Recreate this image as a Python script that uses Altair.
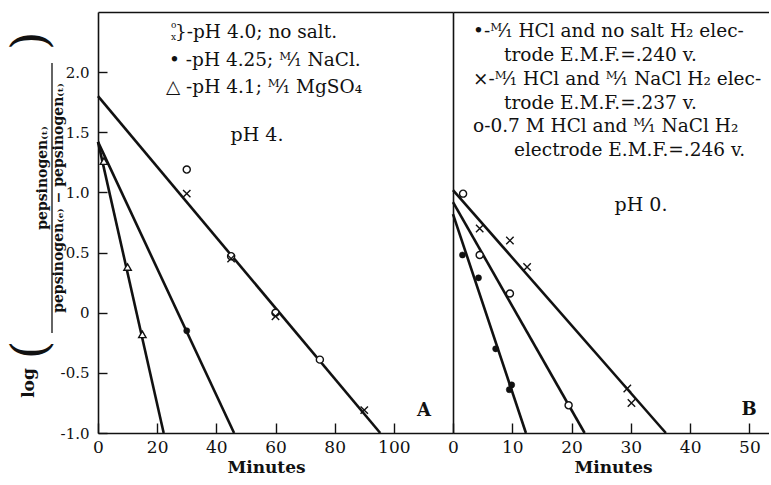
import altair as alt
import pandas as pd

FONT = "DejaVu Serif"
INK = "#111111"

# ---------------- panel A (pH 4) ----------------
a_x = [30, 30, 45, 45, 60, 60, 75, 90, 30, 2, 10, 15]
a_y = [1.19, 0.99, 0.47, 0.45, 0.00, -0.03, -0.39, -0.81, -0.15, 1.26, 0.38, -0.18]
a_sym = ["o", "x", "o", "x", "o", "x", "o", "x", "dot", "tri", "tri", "tri"]

a_fit_x0 = [0, 0, 0]
a_fit_y0 = [1.80, 1.42, 1.42]
a_fit_x1 = [95.4, 46.0, 22.2]
a_fit_y1 = [-1.0, -1.0, -1.0]

# ---------------- panel B (pH 0) ----------------
b_x = [1.6, 4.3, 7.2, 9.9, 9.5, 1.7, 4.5, 9.6, 19.5, 4.5, 9.6, 12.5, 29.4, 30.1]
b_y = [0.48, 0.29, -0.30, -0.60, -0.64, 0.99, 0.48, 0.16, -0.77, 0.70, 0.60, 0.38, -0.63, -0.75]
b_sym = ["dot"] * 5 + ["o"] * 4 + ["x"] * 5

b_fit_x0 = [0, 0, 0]
b_fit_y0 = [0.82, 0.92, 1.02]
b_fit_x1 = [12.3, 22.2, 35.9]
b_fit_y1 = [-1.0, -1.0, -1.0]

a_xticks = [0, 20, 40, 60, 80, 100]
b_xticks = [0, 10, 20, 30, 40, 50]
y_ticks = [-1.0, -0.5, 0, 0.5, 1.0, 1.5, 2.0]

# ---------------- texts ----------------
FR = "\u1d39\u2044\u2081"  # M/1
a_legend_o = "o"
a_legend_x = "x"
a_legend_1 = "}-pH 4.0; no salt."
a_legend_2 = "\u2022 -pH 4.25; " + FR + " NaCl."
a_legend_3 = "\u25b3 -pH 4.1; " + FR + " MgSO\u2084"
a_label = "pH 4."
b_legend = [
    "\u2022-" + FR + " HCl and no salt H\u2082 elec-",
    "trode E.M.F.=.240 v.",
    "\u00d7-" + FR + " HCl and " + FR + " NaCl H\u2082 elec-",
    "trode E.M.F.=.237 v.",
    "o-0.7 M HCl and " + FR + " NaCl H\u2082",
    "electrode E.M.F.=.246 v.",
]
b_label = "pH 0."
y_num = "pepsinogen\u208d\u209c\u208e"
y_den = "pepsinogen\u208d\u2091\u208e \u2212 pepsinogen\u208d\u209c\u208e"

SYM = {
    "o": dict(shape="circle", size=50, filled=True, fill="white", stroke=INK, strokeWidth=1.4),
    "x": dict(shape="M-1,-1L1,1M-1,1L1,-1", size=55, filled=False, stroke=INK, strokeWidth=1.4),
    "dot": dict(shape="circle", size=38, filled=True, fill=INK, stroke=INK, strokeWidth=0.5),
    "tri": dict(shape="triangle-up", size=55, filled=True, fill="white", stroke=INK, strokeWidth=1.4),
}

H = 421


def note(text, x, y, size=17, align="left", baseline="middle", angle=0, weight="normal"):
    kw = dict(align=align, baseline=baseline, fontSize=size, font=FONT, fontWeight=weight, color=INK)
    if angle:
        kw["angle"] = angle
    return alt.Chart(pd.DataFrame({"t": [text]})).mark_text(**kw).encode(
        x=alt.value(x), y=alt.value(y), text="t:N")


def panel(px, py, psym, fx0, fy0, fx1, fy1, xmax, width, xticks, ylabels, title_x, extra):
    pts = pd.DataFrame({"x": px, "y": py, "sym": psym})
    fits = pd.DataFrame({"x0": fx0, "y0": fy0, "x1": fx1, "y1": fy1})
    xscale = alt.Scale(domain=[0, xmax], nice=False, zero=False)
    yscale = alt.Scale(domain=[-1, 2.5], nice=False, zero=False)
    xaxis = alt.Axis(values=xticks, title="Minutes", tickSize={"expr": "-10"}, labelPadding=16,
                     labelFlush=False, labelFontSize=17, titleFontSize=17, titleFontWeight="bold",
                     titlePadding=4, tickWidth=1.4, domainWidth=1.6, format="d", titleX=title_x)
    if ylabels:
        yaxis = alt.Axis(values=y_ticks, title=None, tickSize={"expr": "-9"}, labelPadding=18,
                         labelFontSize=15, tickWidth=1.4, domainWidth=1.6,
                         labelExpr="datum.value == 0 ? '0' : (datum.value < 0 ? '-' + format(-datum.value, '.1f') : format(datum.value, '.1f'))")
    else:
        yaxis = alt.Axis(title=None, labels=False, ticks=False, domainWidth=1.6, minExtent=0, maxExtent=0)
    topaxis = alt.Axis(orient="top", labels=False, ticks=False, title=None, domainWidth=1.6,
                       minExtent=0, maxExtent=0)
    lines = alt.Chart(fits).mark_rule(color=INK, strokeWidth=2.6).encode(
        x=alt.X("x0:Q", scale=xscale, axis=xaxis),
        y=alt.Y("y0:Q", scale=yscale, axis=yaxis),
        x2="x1:Q", y2="y1:Q")
    layers = [lines]
    first = True
    for key, style in SYM.items():
        sub = pts[pts.sym == key]
        if sub.empty:
            continue
        layers.append(alt.Chart(sub).mark_point(opacity=1, **style).encode(
            x=alt.X("x:Q", scale=xscale, axis=topaxis if first else None),
            y=alt.Y("y:Q", scale=yscale, axis=None)))
        first = False
    layers += extra
    return alt.layer(*layers).resolve_axis(x="independent", y="independent").properties(
        width=width, height=H)


bar = alt.Chart(pd.DataFrame({"k": [0]})).mark_rule(color=INK, strokeWidth=1.3).encode(
    x=alt.value(-46), y=alt.value(51), y2=alt.value(321))

a_extra = [
    note(a_legend_o, 73, 13, size=9),
    note(a_legend_x, 73, 25, size=9),
    note(a_legend_1, 77, 20, size=18.5),
    note(a_legend_2, 71, 48, size=18.5),
    note(a_legend_3, 68, 75, size=18.5),
    note(a_label, 159, 123, size=19, align="center"),
    note("A", 326, 399, size=18, align="center", weight="bold"),
    note("log", -69, 371, size=17, align="center", angle=270, weight="bold"),
    note("(", -66, 338, size=48, align="center", angle=270),
    note(")", -66, 29, size=48, align="center", angle=270),
    note(y_num, -55, 166, size=14, align="center", angle=270, weight="bold"),
    note(y_den, -39, 186, size=14, align="center", angle=270, weight="bold"),
    bar,
]

b_xs = [20, 51, 20, 51, 20, 61]
b_ys = [19, 43, 67, 91, 114, 138]
b_extra = [note(t, bx, by, size=18.5) for t, bx, by in zip(b_legend, b_xs, b_ys)] + [
    note(b_label, 188, 193, size=19, align="center"),
    note("B", 296, 398, size=18, align="center", weight="bold"),
]

left = panel(a_x, a_y, a_sym, a_fit_x0, a_fit_y0, a_fit_x1, a_fit_y1, 120, 355, a_xticks, True, 168, a_extra)
right = panel(b_x, b_y, b_sym, b_fit_x0, b_fit_y0, b_fit_x1, b_fit_y1, 53.3, 316, b_xticks, False, 160, b_extra)

chart = alt.hconcat(left, right, spacing=0, bounds="flush").properties(
    padding={"left": 8, "top": 12, "right": 0, "bottom": 0}
).configure_view(stroke=None).configure_axis(
    grid=False, labelFont=FONT, titleFont=FONT, labelColor=INK, titleColor=INK,
    domainColor=INK, tickColor=INK
)

chart.save("out.html", embed_options={"renderer": "svg", "actions": False})
